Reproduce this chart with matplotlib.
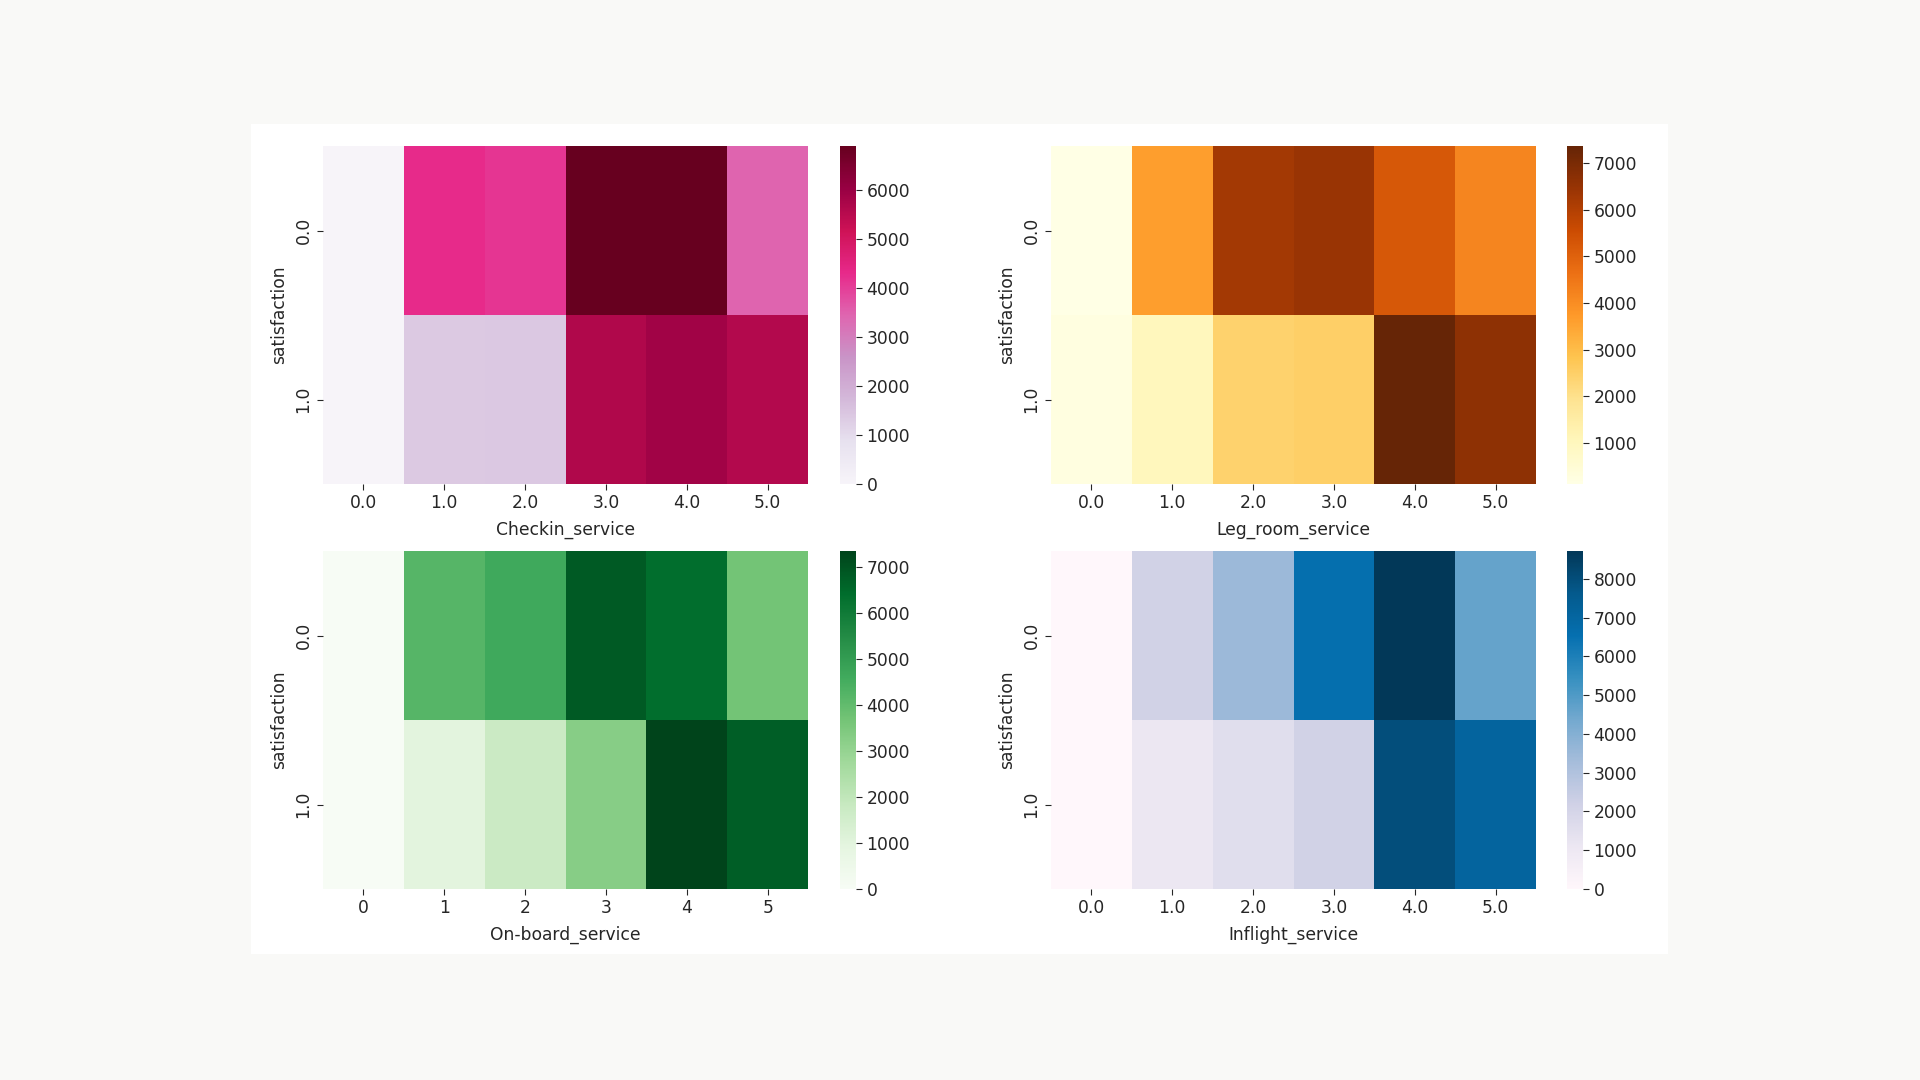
import numpy as np
import pandas as pd
import matplotlib
matplotlib.use("Agg")
import matplotlib.pyplot as plt
import seaborn as sns

# counts per (satisfaction, rating)
SATISFACTION = [0.0, 1.0]

CHECKIN_LABELS = ["0.0", "1.0", "2.0", "3.0", "4.0", "5.0"]
CHECKIN_SAT0 = [1, 4300, 4150, 6900, 6880, 3450]
CHECKIN_SAT1 = [0, 1400, 1420, 5650, 5900, 5600]

LEGROOM_LABELS = ["0.0", "1.0", "2.0", "3.0", "4.0", "5.0"]
LEGROOM_SAT0 = [120, 3650, 6280, 6460, 5260, 4170]
LEGROOM_SAT1 = [260, 1010, 2430, 2500, 7370, 6650]

ONBOARD_LABELS = ["0", "1", "2", "3", "4", "5"]
ONBOARD_SAT0 = [0, 4200, 4650, 6850, 6400, 3700]
ONBOARD_SAT1 = [2, 1000, 1750, 3300, 7350, 6750]

INFLIGHT_LABELS = ["0.0", "1.0", "2.0", "3.0", "4.0", "5.0"]
INFLIGHT_SAT0 = [0, 2170, 3480, 6600, 8720, 4600]
INFLIGHT_SAT1 = [2, 1090, 1560, 2170, 8000, 7100]

PANELS = [
    ("Checkin_service", CHECKIN_LABELS, CHECKIN_SAT0, CHECKIN_SAT1, "PuRd"),
    ("Leg_room_service", LEGROOM_LABELS, LEGROOM_SAT0, LEGROOM_SAT1, "YlOrBr"),
    ("On-board_service", ONBOARD_LABELS, ONBOARD_SAT0, ONBOARD_SAT1, "Greens"),
    ("Inflight_service", INFLIGHT_LABELS, INFLIGHT_SAT0, INFLIGHT_SAT1, "PuBu"),
]

W, H = 1920, 1080
TXT = "#262626"
FS = 12.3

fig = plt.figure(figsize=(19.2, 10.8), dpi=100, facecolor="#f9f9f7")

# white "notebook output" panel behind the plots
bg = fig.add_axes([251 / W, 1 - 954 / H, (1668 - 251) / W, (954 - 124) / H])
bg.set_facecolor("white")
bg.set_xticks([])
bg.set_yticks([])
for s in bg.spines.values():
    s.set_visible(False)
bg.set_zorder(-10)

# pixel boxes (left, top) of each heatmap, and colourbar left
boxes = [(323, 146, 840), (1051, 146, 1567), (323, 551, 840), (1051, 551, 1567)]
hm_w, hm_h, cb_w = 485, 338, 16

for (name, labels, s0, s1, cmap), (x0, y0, cx) in zip(PANELS, boxes):
    ax = fig.add_axes([x0 / W, 1 - (y0 + hm_h) / H, hm_w / W, hm_h / H])
    cax = fig.add_axes([cx / W, 1 - (y0 + hm_h) / H, cb_w / W, hm_h / H])
    df = pd.DataFrame([s0, s1], index=SATISFACTION, columns=labels)
    sns.heatmap(df, ax=ax, cbar_ax=cax, cmap=cmap)
    ax.set_xlabel(name, fontsize=FS, color=TXT, labelpad=6)
    ax.set_ylabel("satisfaction", fontsize=FS, color=TXT, labelpad=5)
    ax.set_xticklabels(labels, rotation=0, fontsize=FS, color=TXT)
    ax.set_yticklabels(["0.0", "1.0"], rotation=90, va="center", fontsize=FS, color=TXT)
    ax.tick_params(colors=TXT, length=4)
    cax.tick_params(labelsize=FS, colors=TXT, length=4)

fig.savefig("out.png", dpi=100, facecolor=fig.get_facecolor())
